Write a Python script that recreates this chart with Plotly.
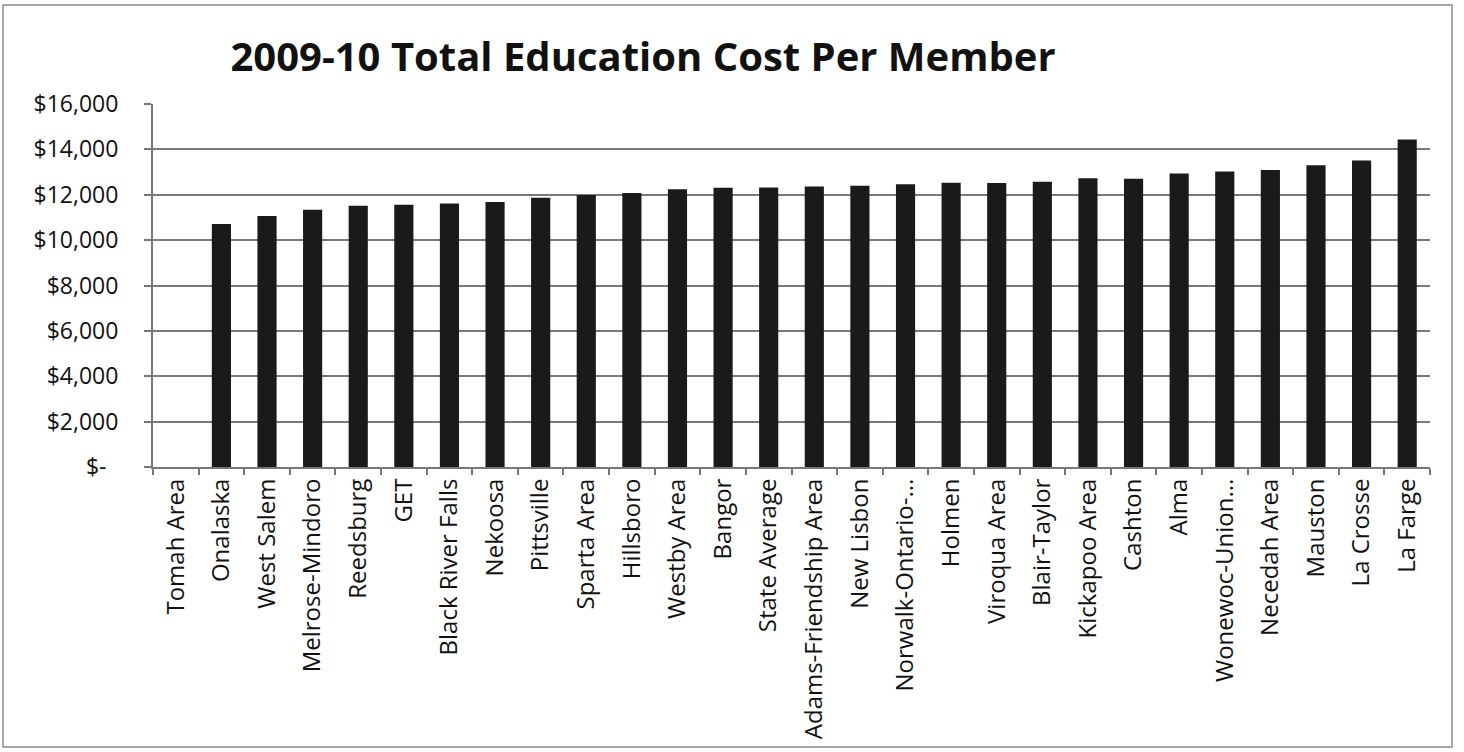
import plotly.graph_objects as go

# 2009-10 total education cost per member, by district (ascending)
districts = [
    "Tomah Area", "Onalaska", "West Salem", "Melrose-Mindoro", "Reedsburg", "GET",
    "Black River Falls", "Nekoosa", "Pittsville", "Sparta Area", "Hillsboro",
    "Westby Area", "Bangor", "State Average", "Adams-Friendship Area", "New Lisbon",
    "Norwalk-Ontario-...", "Holmen", "Viroqua Area", "Blair-Taylor", "Kickapoo Area",
    "Cashton", "Alma", "Wonewoc-Union...", "Necedah Area", "Mauston", "La Crosse",
    "La Farge",
]
cost_per_member = [
    None, 10710, 11060, 11340, 11510, 11560,
    11610, 11680, 11870, 11985, 12080,
    12240, 12310, 12320, 12360, 12395,
    12465, 12530, 12520, 12575, 12725,
    12705, 12940, 13030, 13095, 13300, 13510,
    14440,
]
y_ticks = [0, 2000, 4000, 6000, 8000, 10000, 12000, 14000, 16000]
y_tick_text = ["$-\u00a0\u00a0", "$2,000", "$4,000", "$6,000", "$8,000",
               "$10,000", "$12,000", "$14,000", "$16,000"]

FONT = "Open Sans"
INK = "#111111"

fig = go.Figure(
    go.Bar(
        x=districts,
        y=cost_per_member,
        marker=dict(color="#1a1a1a", line=dict(width=0)),
        hovertemplate="%{x}: $%{y:,.0f}<extra></extra>",
    )
)

# plot-area edges in pixels, used to place the outer frame
L, R, T, B = 153, 34, 104, 285
W, H = 1464, 752
pw, ph = W - L - R, H - T - B

def px_x(p):
    return (p - L) / pw

def px_y(p):
    return (H - B - p) / ph

fig.update_layout(
    width=W,
    height=H,
    margin=dict(l=L, r=R, t=T, b=B, pad=0),
    paper_bgcolor="white",
    plot_bgcolor="white",
    bargap=0.58,
    showlegend=False,
    font=dict(family=FONT, color=INK),
    title=dict(
        text="<b>2009-10 Total Education Cost Per Member</b>",
        font=dict(family=FONT, size=40, color=INK),
        x=643 / W, xref="container", xanchor="center",
        y=1 - 57 / H, yref="container", yanchor="middle",
    ),
    xaxis=dict(
        type="category",
        tickangle=-90,
        tickfont=dict(family=FONT, size=24, color=INK),
        showgrid=False,
        showline=True, linecolor="#777777", linewidth=2,
        ticks="outside", tickson="boundaries", ticklen=6,
        tickcolor="#777777", tickwidth=1.5,
        range=[-0.5, len(districts) - 0.5],
    ),
    yaxis=dict(
        range=[0, 16000],
        tickvals=y_ticks,
        ticktext=y_tick_text,
        tickfont=dict(family=FONT, size=23, color=INK),
        showgrid=True, gridcolor="#7a7a7a", gridwidth=2,
        zeroline=False,
        showline=True, linecolor="#777777", linewidth=2,
        ticks="outside", ticklen=7, tickcolor="#777777", tickwidth=1.5,
        ticklabelstandoff=21,
    ),
    shapes=[
        dict(
            type="rect", xref="paper", yref="paper",
            x0=px_x(3), x1=px_x(1452), y0=px_y(747), y1=px_y(5),
            line=dict(color="#8c8c8c", width=1.5),
            fillcolor="rgba(0,0,0,0)", layer="below",
        )
    ],
)

fig.write_html("out.html")
